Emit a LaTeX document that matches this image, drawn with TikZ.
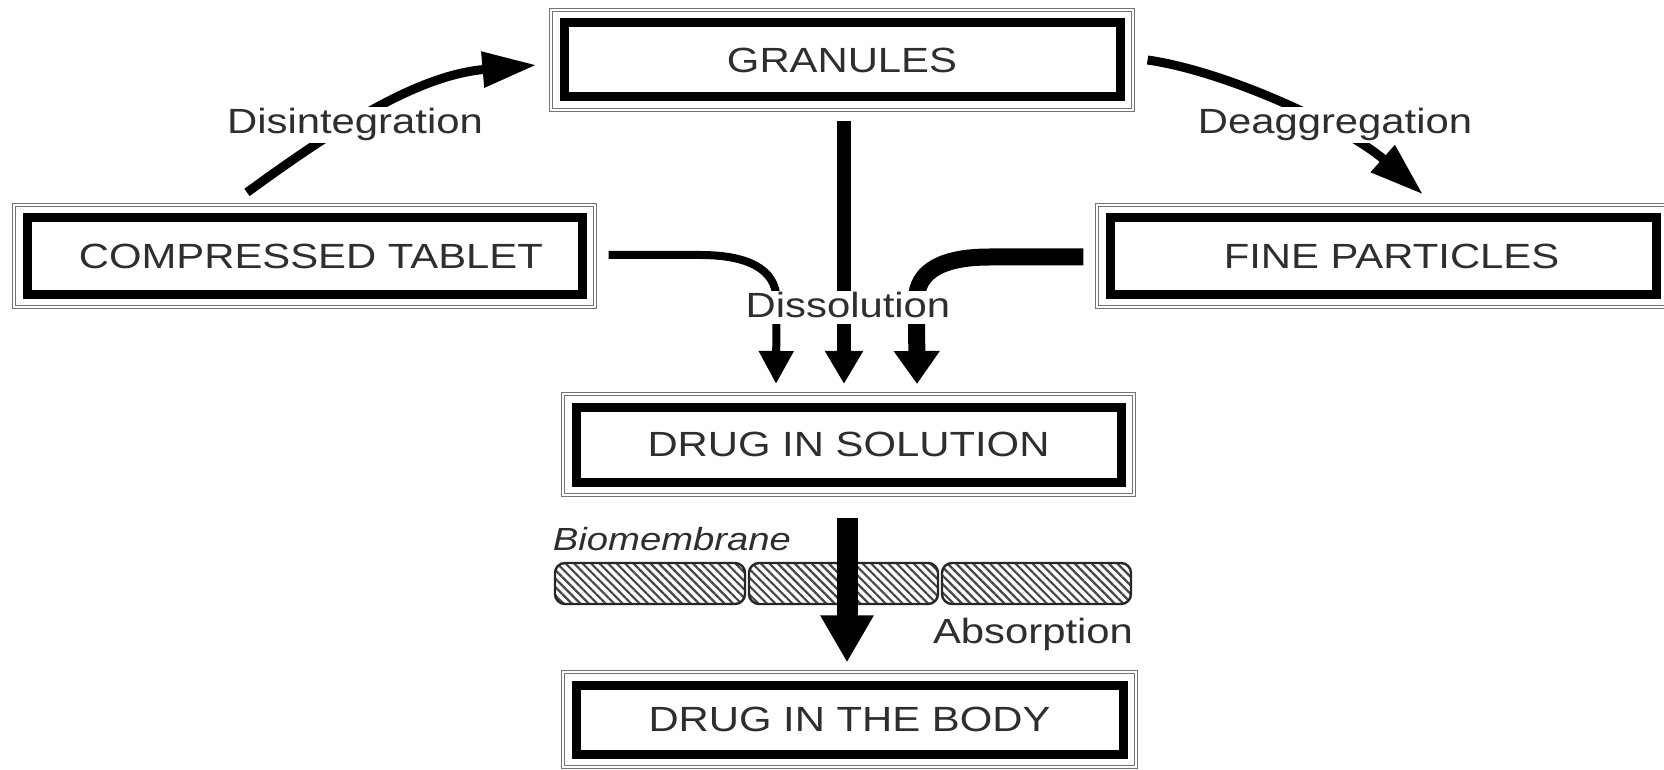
\documentclass[tikz,border=0pt]{standalone}
\usepackage{fontspec}
\setmainfont{Liberation Sans}[FakeStretch=1.195]
\usetikzlibrary{arrows.meta,calc,patterns.meta}
\begin{document}
\begin{tikzpicture}[x=0.5pt,y=-0.5pt,
  txt/.style={font=\fontsize{17.5}{21}\selectfont, text=black!82},
  stage/.style 2 args={txt, draw=black!55, line width=0.55pt, double=white, double distance=0.9pt,
    minimum width=#1, minimum height=#2, inner sep=0pt,
    path picture={\draw[line width=4.5pt, black]
      ([shift={(6.5pt,-6.5pt)}]path picture bounding box.north west) rectangle
      ([shift={(-6.5pt,6.5pt)}]path picture bounding box.south east);}},
  lbl/.style={txt, anchor=base, fill=white, inner xsep=2pt, inner ysep=1pt},
  membrane/.style={draw=black!85, line width=1.2pt, rounded corners=5pt,
    pattern={Lines[angle=-45,distance=3pt,line width=1.1pt]}, pattern color=black!72}
]
\useasboundingbox (0,0) rectangle (1664,770);

\node[stage={291pt}{50pt}] (granules) at (842,60) {GRANULES};
\node[stage={290.5pt}{51pt}] (tablet) at (304.5,256) {\hspace*{6.4pt}COMPRESSED TABLET};
\node[stage={286pt}{51pt}] (fine) at (1383,256) {\hspace*{8.5pt}FINE PARTICLES};
\node[stage={285.5pt}{50.5pt}] (solution) at (848.5,444.5) {DRUG IN SOLUTION};
\node[stage={286.5pt}{47.5pt}] (body) at (849.5,719.5) {DRUG IN THE BODY};

% Disintegration
\draw[line width=4.5pt, -{Triangle[length=27pt,width=17pt]}]
  ($(tablet.north)+(-57.5,-12)$) .. controls +(93,-68) and +(-117,10) .. ($(granules.west)+(-14,5)$);
% Deaggregation
\draw[line width=4.5pt, -{Triangle[length=27pt,width=17pt]}]
  ($(granules.east)+(14,0)$) .. controls +(83,12) and +(-73,-65) .. ($(fine.north)+(40,-10)$);

% Dissolution paths
\draw[line width=4pt, -{Triangle[length=16.5pt,width=16.5pt]}]
  ($(tablet.east)+(13,-1)$) -- ++(92,0) .. controls +(45,0) and +(0,-32) .. ++(76,45)
  -- ($(solution.north)+(-72.5,-9.5)$);
\draw[line width=7pt, -{Triangle[length=16.5pt,width=18pt]}]
  ($(granules.south)+(2,10)$) -- ($(solution.north)+(-4.5,-9.5)$);
\draw[line width=8.5pt, -{Triangle[length=16.5pt,width=22pt]}]
  ($(fine.west)+(-13,1)$) -- ++(-94,0) .. controls +(-45,0) and +(0,-30) .. ++(-73,43)
  -- ($(solution.north)+(68.5,-9.5)$);

\node[lbl] (disint) at (355,134) {Disintegration};
\node[lbl] (deagg) at (1335,134) {Deaggregation};
\node[lbl, inner ysep=0.5pt, text depth=3pt] (dissol) at (848,317) {Dissolution};

% Biomembrane
\foreach \a/\b in {555/745, 749/938, 942/1131}
  \draw[membrane] (\a,563) rectangle (\b,604);
\node[txt, anchor=base, font=\fontsize{16}{20}\selectfont\itshape] (biomem) at (672,550) {Biomembrane};
\node[txt, anchor=base] (absorp) at (1033,643) {Absorption};

\draw[line width=10.5pt, -{Triangle[length=23.5pt,width=25pt]}]
  ($(solution.south)+(-1.5,22.5)$) -- ($(body.north)+(-2.5,-9)$);
\end{tikzpicture}
\end{document}
